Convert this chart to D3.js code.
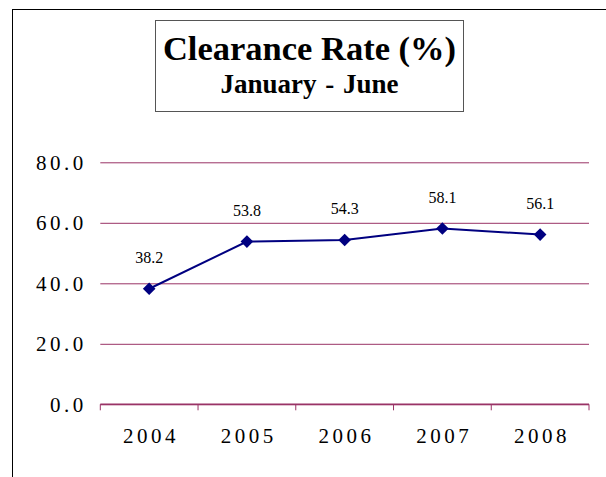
<!DOCTYPE html>
<html>
<head>
<meta charset="utf-8">
<script src="https://cdn.jsdelivr.net/npm/d3@7"></script>
<style>
  html, body { margin: 0; padding: 0; background: #fff; }
  svg { display: block; }
</style>
</head>
<body>
<script>
// chart data
const years = ['2004', '2005', '2006', '2007', '2008'];
const rates = [38.2, 53.8, 54.3, 58.1, 56.1];
const yTicks = [0, 20, 40, 60, 80];
const titleLines = ['Clearance Rate (%)', 'January - June'];

const width = 606, height = 477;
const margin = { top: 162.3, right: 17, bottom: 72.7, left: 100.3 };

const svg = d3.select('body').append('svg')
    .attr('width', width)
    .attr('height', height);

// outer frame (runs off the right and bottom edges)
svg.append('rect')
    .attr('x', 12.5).attr('y', 9.5)
    .attr('width', width).attr('height', height)
    .attr('fill', 'none')
    .attr('stroke', '#000')
    .attr('stroke-width', 1);

// title box
const tb = { x: 155.5, y: 20.5, w: 308, h: 91 };
svg.append('rect')
    .attr('x', tb.x).attr('y', tb.y)
    .attr('width', tb.w).attr('height', tb.h)
    .attr('fill', '#fff')
    .attr('stroke', '#555')
    .attr('stroke-width', 1);

svg.append('text')
    .attr('x', tb.x + tb.w / 2).attr('y', 60)
    .attr('text-anchor', 'middle')
    .style('font-family', '"Liberation Serif", "Times New Roman", serif')
    .style('font-weight', 'bold')
    .style('font-size', '34.5px')
    .text(titleLines[0]);

svg.append('text')
    .attr('x', tb.x + tb.w / 2).attr('y', 93)
    .attr('text-anchor', 'middle')
    .style('font-family', '"Liberation Serif", "Times New Roman", serif')
    .style('font-weight', 'bold')
    .style('font-size', '27px')
    .style('word-spacing', '2px')
    .text(titleLines[1]);

// scales
const x = d3.scaleBand()
    .domain(years)
    .range([margin.left, width - margin.right])
    .padding(0);

const y = d3.scaleLinear()
    .domain([0, 80])
    .range([height - margin.bottom, margin.top]);

const gridColor = '#993366';
const lsp = 3.5; // letter spacing of the axis labels

// gridlines + y labels
const yAxis = d3.axisLeft(y)
    .tickValues(yTicks)
    .tickFormat(d3.format('.1f'))
    .tickSize(-(width - margin.right - margin.left))
    .tickPadding(17 - lsp);

const gy = svg.append('g')
    .attr('transform', 'translate(' + margin.left + ',0)')
    .call(yAxis);
gy.select('.domain').remove();
gy.selectAll('.tick line')
    .attr('stroke', gridColor)
    .attr('stroke-width', 1);
gy.selectAll('.tick text')
    .attr('fill', '#000')
    .style('font-family', '"Liberation Serif", "Times New Roman", serif')
    .style('font-size', '21px')
    .style('letter-spacing', lsp + 'px');

// x axis: line with ticks on the category boundaries
const x0 = y(0);
const edges = years.map(d => x(d)).concat([x(years[years.length - 1]) + x.bandwidth()]);
svg.append('line')
    .attr('x1', x.range()[0]).attr('x2', x.range()[1])
    .attr('y1', x0).attr('y2', x0)
    .attr('stroke', gridColor)
    .attr('stroke-width', 1.5);
svg.selectAll('.xtick')
    .data(edges)
    .join('line')
    .attr('class', 'xtick')
    .attr('x1', d => d).attr('x2', d => d)
    .attr('y1', x0).attr('y2', x0 + 6)
    .attr('stroke', gridColor)
    .attr('stroke-width', 1);

svg.selectAll('.xlabel')
    .data(years)
    .join('text')
    .attr('class', 'xlabel')
    .attr('x', d => x(d) + x.bandwidth() / 2 + lsp / 2)
    .attr('y', x0 + 39)
    .attr('text-anchor', 'middle')
    .style('font-family', '"Liberation Serif", "Times New Roman", serif')
    .style('font-size', '21px')
    .style('letter-spacing', lsp + 'px')
    .text(d => d);

// series
const pts = years.map((d, i) => ({ year: d, value: rates[i] }));
const cx = d => x(d.year) + x.bandwidth() / 2;

svg.append('path')
    .datum(pts)
    .attr('fill', 'none')
    .attr('stroke', '#000080')
    .attr('stroke-width', 2)
    .attr('d', d3.line().x(cx).y(d => y(d.value)));

svg.selectAll('.marker')
    .data(pts)
    .join('path')
    .attr('class', 'marker')
    .attr('d', d3.symbol(d3.symbolSquare, 80))
    .attr('transform', d => 'translate(' + cx(d) + ',' + y(d.value) + ') rotate(45)')
    .attr('fill', '#000080');

// data labels
svg.selectAll('.vlabel')
    .data(pts)
    .join('text')
    .attr('class', 'vlabel')
    .attr('x', cx)
    .attr('y', d => y(d.value) - 26)
    .attr('text-anchor', 'middle')
    .style('font-family', '"Liberation Serif", "Times New Roman", serif')
    .style('font-size', '16px')
    .text(d => d.value.toFixed(1));
</script>
</body>
</html>
